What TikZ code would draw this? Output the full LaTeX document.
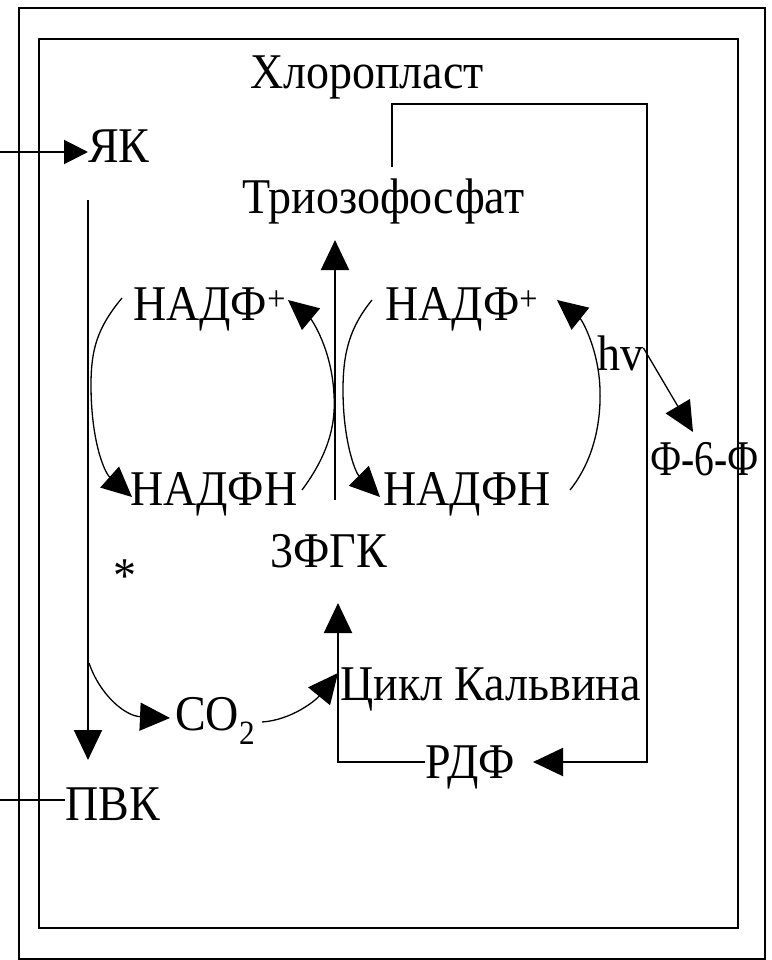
\documentclass[tikz,border=0pt]{standalone}
\usepackage{fontspec}
\setmainfont[FakeStretch=0.92]{Liberation Serif}
\usetikzlibrary{arrows.meta}
\begin{document}
\begin{tikzpicture}[x=1pt,y=-1pt,
  lbl/.style={anchor=base west, inner sep=0pt, font=\fontsize{50}{50}\selectfont},
  frame/.style={line width=2.5pt},
  ln/.style={line width=2pt},
  cv/.style={line width=1.3pt},
  tip/.style={-{Triangle[length=30pt,width=28pt]}},
  smalltip/.style={-{Triangle[length=24pt,width=24pt]}},
]
\useasboundingbox (0,0) rectangle (771,960);
% frames
\draw[frame] (19,8) rectangle (765,959);
\draw[frame] (39,39) rectangle (738,928);
% labels
\node[lbl] (chl) at (250,89) {Хлоропласт};
\node[lbl] (yk) at (88,163) {ЯК};
\node[lbl] (trio) at (242,213) {Триозофосфат};
\node[lbl] (nadpL) at (133,320) {НАДФ\textsuperscript{+}};
\node[lbl] (nadpR) at (385,320) {НАДФ\textsuperscript{+}};
\node[lbl] (hv) at (597,370) {hv};
\node[lbl] (nadhL) at (130,505) {НАДФН};
\node[lbl] (nadhR) at (383,505) {НАДФН};
\node[lbl] (f6f) at (650,475) {\scalebox{0.86}[1]{Ф-6-Ф}};
\node[lbl] (pga) at (270,567) {3ФГК};
\node[lbl] (star) at (113,592) {*};
\node[lbl] (co2) at (175,730) {CO\raisebox{-0.28em}{\fontsize{34}{34}\selectfont 2}};
\node[lbl] (calvin) at (340,700) {Цикл Кальвина};
\node[lbl] (rdf) at (425,778) {РДФ};
\node[lbl] (pvk) at (65,820) {ПВК};
% free ends
\coordinate (ykin) at (0,152);
\coordinate (pvkout) at (0,800);
\coordinate (vtop) at (88,200);
\coordinate (vbot) at (88,760);
\coordinate (vbranch) at (89,663);
\coordinate (ctop) at (335,240);
\coordinate (cbot) at (335,500);
\coordinate (pgatip) at (338,603);
\coordinate (corner) at (338,762);
\coordinate (rdfin) at (533,762);
\coordinate (loopA) at (392,167);
\coordinate (loopB) at (392,104);
\coordinate (loopC) at (647,104);
\coordinate (loopD) at (647,762);
% straight connectors
\draw[ln,smalltip] (ykin) -- (yk.west |- ykin);
\draw[ln,tip] (vtop) -- (vbot);
\draw[ln] (pvk.west |- pvkout) -- (pvkout);
\draw[ln,tip] (cbot) -- (ctop);
\draw[ln,tip] (rdf.west |- corner) -- (corner) -- (pgatip);
\draw[ln,tip] (loopA) -- (loopB) -- (loopC) -- (loopD) -- (rdfin);
\draw[cv,tip] (hv.east) ++(0,-5) -- (693,432);
% left cycle
\draw[cv,tip] (122,298) .. controls (97,328) and (91,350) .. (91,385)
  .. controls (91,440) and (104,472) .. (132,497);
\draw[cv,tip] (302,490) .. controls (328,455) and (336,425) .. (334,395)
  .. controls (332,350) and (312,320) .. (288,300);
% right cycle
\draw[cv,tip] (372,300) .. controls (350,327) and (343,352) .. (343,390)
  .. controls (343,440) and (355,472) .. (380,497);
\draw[cv,tip] (570,490) .. controls (594,460) and (601,422) .. (600,390)
  .. controls (599,350) and (582,320) .. (557,300);
% CO2 curves
\draw[cv,tip] (vbranch) .. controls (100,695) and (125,716) .. (170,718);
\draw[cv,tip] (262,722) .. controls (292,720) and (316,700) .. (338,673);
\end{tikzpicture}
\end{document}
